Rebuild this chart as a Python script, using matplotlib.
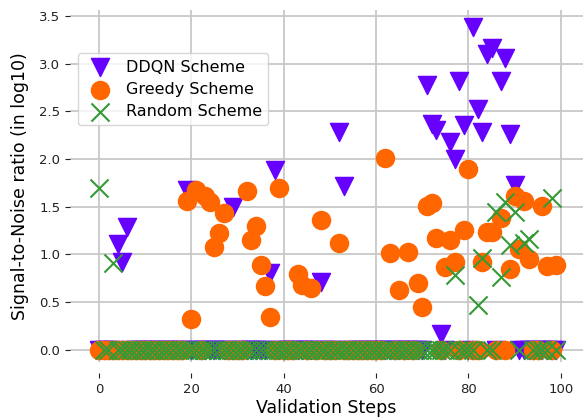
import matplotlib

matplotlib.use("Agg")
import matplotlib.pyplot as plt

# Validation steps 0..99, one SNR value (log10) per step and scheme.
STEPS = [
    0, 1, 2, 3, 4, 5, 6, 7, 8, 9,
    10, 11, 12, 13, 14, 15, 16, 17, 18, 19,
    20, 21, 22, 23, 24, 25, 26, 27, 28, 29,
    30, 31, 32, 33, 34, 35, 36, 37, 38, 39,
    40, 41, 42, 43, 44, 45, 46, 47, 48, 49,
    50, 51, 52, 53, 54, 55, 56, 57, 58, 59,
    60, 61, 62, 63, 64, 65, 66, 67, 68, 69,
    70, 71, 72, 73, 74, 75, 76, 77, 78, 79,
    80, 81, 82, 83, 84, 85, 86, 87, 88, 89,
    90, 91, 92, 93, 94, 95, 96, 97, 98, 99,
]

DDQN_SNR = [
    0, 0, 0, 0, 1.11, 0.92, 1.29, 0, 0, 0,
    0, 0, 0, 0, 0, 0, 0, 0, 0, 1.67,
    0, 0, 0, 0, 0, 0, 0, 0, 0, 1.50,
    0, 0, 0, 0, 0, 0, 0, 0.81, 1.88, 0,
    0, 0, 0, 0, 0, 0, 0, 0, 0.71, 0,
    0, 0, 2.28, 1.72, 0, 0, 0, 0, 0, 0,
    0, 0, 0, 0, 0, 0, 0, 0, 0, 0,
    0, 2.77, 2.37, 2.30, 0.17, 0, 2.18, 2.00, 2.82, 2.36,
    0, 3.38, 2.52, 2.28, 3.10, 3.16, 0, 2.82, 3.06, 2.26,
    1.73, 0, 0, 0, 0, 0, 0, 0, 0, 0,
]

GREEDY_SNR = [
    0, 0, 0, 0, 0, 0, 0, 0, 0, 0,
    0, 0, 0, 0, 0, 0, 0, 0, 0, 1.56,
    0.32, 1.68, 0, 1.61, 1.55, 1.08, 1.23, 1.43, 0, 0,
    0, 0, 1.66, 1.15, 1.30, 0.89, 0.67, 0.35, 0, 1.70,
    0, 0, 0, 0.80, 0.68, 0, 0.65, 0, 1.36, 0,
    0, 0, 1.12, 0, 0, 0, 0, 0, 0, 0,
    0, 0, 2.01, 1.02, 0, 0.63, 0, 1.03, 0, 0.70,
    0.45, 1.51, 1.54, 1.17, 0, 0.87, 1.15, 0.92, 0, 1.26,
    1.89, 0, 0, 0.92, 1.24, 1.24, 0, 1.38, 0, 0.85,
    1.61, 1.06, 1.56, 0.95, 0, 0, 1.51, 0.88, 0, 0.89,
]

RANDOM_SNR = [
    1.70, 0, 0, 0.91, 0, 0, 0, 0, 0, 0,
    0, 0, 0, 0, 0, 0, 0, 0, 0, 0,
    0, 0, 0, 0, 0, 0, 0, 0, 0, 0,
    0, 0, 0, 0, 0, 0, 0, 0, 0, 0,
    0, 0, 0, 0, 0, 0, 0, 0, 0, 0,
    0, 0, 0, 0, 0, 0, 0, 0, 0, 0,
    0, 0, 0, 0, 0, 0, 0, 0, 0, 0,
    0, 0, 0, 0, 0, 0, 0, 0.79, 0, 0,
    0, 0, 0.47, 0.96, 0, 0, 1.45, 0.76, 1.55, 1.10,
    1.44, 0, 1.12, 1.16, 0, 0, 0, 0, 1.59, 0,
]

X_TICKS = [0, 20, 40, 60, 80, 100]
Y_TICKS = [0.0, 0.5, 1.0, 1.5, 2.0, 2.5, 3.0, 3.5]

DDQN_COLOR = "#6600ff"
GREEDY_COLOR = "#ff6600"
RANDOM_COLOR = "#359a35"
MARKER_AREA = 170

fig = plt.figure(figsize=(5.83, 4.18), dpi=100)
ax = fig.add_axes([0.120, 0.134, 0.880, 0.842])

ax.scatter(STEPS, DDQN_SNR, marker="v", s=MARKER_AREA, color=DDQN_COLOR,
           label="DDQN Scheme", zorder=3)
ax.scatter(STEPS, GREEDY_SNR, marker="o", s=MARKER_AREA, color=GREEDY_COLOR,
           label="Greedy Scheme", zorder=3)
ax.scatter(STEPS, RANDOM_SNR, marker="x", s=MARKER_AREA, color=RANDOM_COLOR,
           linewidths=1.5, label="Random Scheme", zorder=3)

ax.set_xlim(-6.3, 104.8)
ax.set_ylim(-0.126, 3.56)
ax.set_xticks(X_TICKS)
ax.set_yticks(Y_TICKS)
ax.tick_params(labelsize=9.5, colors="#222222")

ax.grid(True, color="#c8c8c8", linewidth=1.3, zorder=0)
ax.set_axisbelow(True)
for side in ("top", "right", "left", "bottom"):
    ax.spines[side].set_visible(False)
ax.spines["bottom"].set_position(("outward", 8))

ax.set_xlabel("Validation Steps", fontsize=12.5, labelpad=2)
ax.set_ylabel("Signal-to-Noise ratio (in log10)", fontsize=12.5, labelpad=7)

ax.legend(loc="upper left", bbox_to_anchor=(0.0, 0.9), fontsize=11.5,
          labelspacing=0.45, handletextpad=0.6, borderpad=0.4)

fig.savefig("out.png", dpi=100)
